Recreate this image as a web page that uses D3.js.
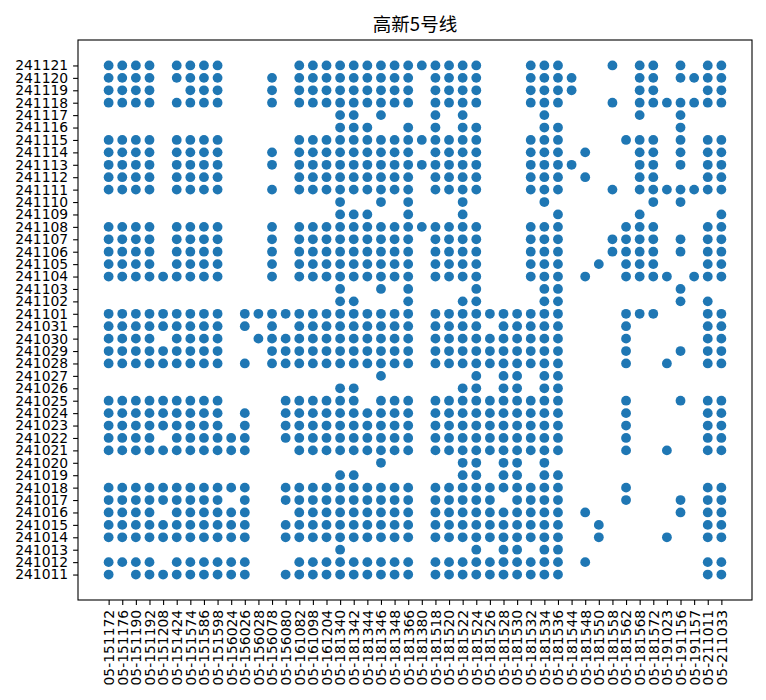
<!DOCTYPE html>
<html>
<head>
<meta charset="utf-8">
<script src="https://cdn.jsdelivr.net/npm/d3@7"></script>
<style>
    body { margin: 0; background: #fff; }
    svg { display: block; }
</style>
</head>
<body>
<svg id="dot-chart" width="766" height="700"></svg>
<script>
/**
 * Station codes along the x axis
 */
const stations = [
    '05-151172', '05-151176', '05-151190', '05-151192', '05-151208', '05-151424',
    '05-151574', '05-151586', '05-151598', '05-156024', '05-156026', '05-156028',
    '05-156078', '05-156080', '05-161082', '05-161098', '05-161204', '05-181340',
    '05-181342', '05-181344', '05-181346', '05-181348', '05-181366', '05-181380',
    '05-181518', '05-181520', '05-181522', '05-181524', '05-181526', '05-181528',
    '05-181530', '05-181532', '05-181534', '05-181536', '05-181544', '05-181548',
    '05-181550', '05-181558', '05-181562', '05-181568', '05-181572', '05-191023',
    '05-191156', '05-191157', '05-211011', '05-211033'
];

/**
 * Dates along the y axis (bottom to top)
 */
const dates = [
    '241011', '241012', '241013', '241014', '241015', '241016', '241017',
    '241018', '241019', '241020', '241021', '241022', '241023', '241024',
    '241025', '241026', '241027', '241028', '241029', '241030', '241031',
    '241101', '241102', '241103', '241104', '241105', '241106', '241107',
    '241108', '241109', '241110', '241111', '241112', '241113', '241114',
    '241115', '241116', '241117', '241118', '241119', '241120', '241121'
];

/**
 * One row per date, one character per station: '#' = record present
 */
const presence = [
    '#.########' + '#..#######' + '###.######' + '####......' + '....##', // 241011
    '####.#####' + '#...######' + '###.######' + '####.#....' + '....##', // 241012
    '..........' + '.......#..' + '.......#.#' + '#.##......' + '......', // 241013
    '##########' + '#..#######' + '###.######' + '####..#...' + '.#..##', // 241014
    '##########' + '#..#######' + '###.######' + '####..#...' + '....##', // 241015
    '####.#####' + '#...######' + '###.######' + '####.#....' + '..#.##', // 241016
    '#########.' + '#..#######' + '###.#####.' + '####....#.' + '..#.##', // 241017
    '##########' + '#..#######' + '###.######' + '####....#.' + '....##', // 241018
    '..........' + '.......##.' + '......##.#' + '#.##......' + '......', // 241019
    '..........' + '..........' + '#.....##.#' + '#.#.......' + '......', // 241020
    '##########' + '#...######' + '###.######' + '####....#.' + '.#..##', // 241021
    '####.#####' + '#..#######' + '###.######' + '####....#.' + '....##', // 241022
    '#########.' + '#..#######' + '###.######' + '####....#.' + '....##', // 241023
    '#########.' + '#..#######' + '###.######' + '####....#.' + '....##', // 241024
    '#########.' + '...######.' + '###.######' + '####....#.' + '..#.##', // 241025
    '..........' + '.......##.' + '......##.#' + '#.##......' + '......', // 241026
    '..........' + '..........' + '#......#.#' + '#.##......' + '......', // 241027
    '#########.' + '#.########' + '###.######' + '####....#.' + '.#..##', // 241028
    '#########.' + '..########' + '###.######' + '####....#.' + '..#.##', // 241029
    '####.####.' + '.#########' + '###.######' + '####....#.' + '....##', // 241030
    '#########.' + '#.#.######' + '###.####.#' + '####....#.' + '....##', // 241031
    '#########.' + '##########' + '###.######' + '####....##' + '#...##', // 241101
    '..........' + '.......##.' + '..#...##..' + '..##......' + '..#.#.', // 241102
    '..........' + '.......#..' + '#.#....#..' + '..##......' + '..#...', // 241103
    '#########.' + '..#.######' + '###.####..' + '.###.#..##' + '##.###', // 241104
    '####.####.' + '..#.######' + '###.####..' + '.###..#.##' + '#...##', // 241105
    '####.####.' + '..#.######' + '###.####..' + '.###...###' + '#.#.##', // 241106
    '####.####.' + '..#.######' + '###.####..' + '.###...###' + '#.#.##', // 241107
    '####.####.' + '..#.######' + '########..' + '.###....##' + '#...##', // 241108
    '..........' + '.......###' + '..#...#...' + '...#.....#' + '.....#', // 241109
    '..........' + '.......#..' + '#.#...#...' + '..#.......' + '#.#...', // 241110
    '####.####.' + '..#.######' + '###.####..' + '.###...#.#' + '######', // 241111
    '####.####.' + '....######' + '###.####..' + '.###.#...#' + '#...##', // 241112
    '####.####.' + '..#.######' + '########..' + '.####....#' + '#.#.##', // 241113
    '####.####.' + '..#.######' + '###.####..' + '.###.#...#' + '#.#.##', // 241114
    '####.####.' + '....######' + '########..' + '.###....##' + '#.#.##', // 241115
    '..........' + '.......###' + '..#.#.##..' + '..##......' + '..#...', // 241116
    '..........' + '.......##.' + '#...#.#...' + '..#......#' + '..#...', // 241117
    '####.####.' + '..#.######' + '###.####..' + '.###...#.#' + '######', // 241118
    '####..###.' + '..#.######' + '###.####..' + '.####....#' + '#...##', // 241119
    '####.####.' + '..#.######' + '###.####..' + '.####....#' + '#.####', // 241120
    '####.####.' + '....######' + '########..' + '.###...#.#' + '#.#.##'  // 241121
];

const chartTitle = '高新5号线';

const svgTag = d3.select('#dot-chart');

// axes box in pixels, as in the reference
const box = { left: 78, right: 752, top: 40, bottom: 600 };
const tickFont = '"DejaVu Sans", sans-serif';
const dotColor = '#1f77b4';

function buildRecords() {
    const records = [];
    presence.forEach((row, i) => {
        row.split('').forEach((c, j) => {
            if (c === '#') records.push({ station: stations[j], date: dates[i] });
        });
    });
    return records;
}

function assembleXScale() {
    return d3.scalePoint()
        .domain(stations)
        .range([box.left, box.right])
        .padding(0.05 * (stations.length - 1));
}

function assembleYScale() {
    return d3.scalePoint()
        .domain(dates)
        .range([box.bottom, box.top])
        .padding(0.05 * (dates.length - 1));
}

function drawDots(records, xScale, yScale) {
    svgTag.append('g')
        .selectAll('circle')
        .data(records)
        .join('circle')
        .attr('cx', (d) => xScale(d.station))
        .attr('cy', (d) => yScale(d.date))
        .attr('r', 4.9)
        .attr('fill', dotColor);
}

function drawXAxis(xScale) {
    const g = svgTag.append('g')
        .attr('transform', `translate(0, ${box.bottom})`)
        .call(d3.axisBottom(xScale).tickSizeOuter(0).tickSize(4.9).tickPadding(4.9));
    g.select('.domain').remove();
    g.selectAll('.tick line').attr('stroke', '#000').attr('stroke-width', 1.1);
    g.selectAll('.tick text')
        .attr('fill', '#000')
        .style('font-family', tickFont)
        .style('font-size', '13.9px')
        .attr('text-anchor', 'end')
        .attr('dy', '0.35em')
        .attr('x', 0)
        .attr('y', 0)
        .attr('transform', 'translate(0, 9.8) rotate(-90)');
}

function drawYAxis(yScale) {
    const g = svgTag.append('g')
        .attr('transform', `translate(${box.left}, 0)`)
        .call(d3.axisLeft(yScale).tickSizeOuter(0).tickSize(4.9).tickPadding(4.9));
    g.select('.domain').remove();
    g.selectAll('.tick line').attr('stroke', '#000').attr('stroke-width', 1.1);
    g.selectAll('.tick text')
        .attr('fill', '#000')
        .style('font-family', tickFont)
        .style('font-size', '13.9px');
}

function drawFrame() {
    svgTag.append('rect')
        .attr('x', box.left)
        .attr('y', box.top)
        .attr('width', box.right - box.left)
        .attr('height', box.bottom - box.top)
        .attr('fill', 'none')
        .attr('stroke', '#000')
        .attr('stroke-width', 1.1);
}

function drawTitle() {
    svgTag.append('text')
        .text(chartTitle)
        .attr('x', (box.left + box.right) / 2)
        .attr('y', box.top - 9)
        .attr('text-anchor', 'middle')
        .style('font-family', '"Noto Sans CJK SC", "DejaVu Sans", sans-serif')
        .style('font-size', '18.5px')
        .attr('fill', '#000');
}

function draw() {
    const xScale = assembleXScale();
    const yScale = assembleYScale();
    drawDots(buildRecords(), xScale, yScale);
    drawFrame();
    drawXAxis(xScale);
    drawYAxis(yScale);
    drawTitle();
}

draw();
</script>
</body>
</html>
